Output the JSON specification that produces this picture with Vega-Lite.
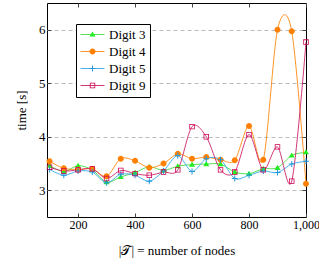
{
  "$schema": "https://vega.github.io/schema/vega-lite/v6.json",
  "width": 259,
  "height": 214,
  "autosize": {"type": "none"},
  "padding": {"left": 47, "top": 3, "right": 13, "bottom": 42},
  "background": "white",
  "config": {
    "view": {"stroke": "black", "strokeWidth": 1},
    "font": "Liberation Serif",
    "legend": {"labelFont": "Liberation Serif", "labelFontSize": 13, "labelColor": "black"},
    "axis": {
      "labelFont": "Liberation Serif",
      "labelFontSize": 13,
      "labelColor": "black",
      "titleFont": "Liberation Serif",
      "titleFontSize": 13,
      "titleFontWeight": "normal",
      "titleColor": "black",
      "tickColor": "#444444",
      "tickSize": -4,
      "domain": false,
      "labelFlush": false
    }
  },
  "data": {
    "values": [
      {"n": 100, "digit": "Digit 3", "t": 3.46}, {"n": 150, "digit": "Digit 3", "t": 3.35}, {"n": 200, "digit": "Digit 3", "t": 3.46}, {"n": 250, "digit": "Digit 3", "t": 3.38}, {"n": 300, "digit": "Digit 3", "t": 3.15}, {"n": 350, "digit": "Digit 3", "t": 3.25}, {"n": 400, "digit": "Digit 3", "t": 3.33}, {"n": 450, "digit": "Digit 3", "t": 3.44}, {"n": 500, "digit": "Digit 3", "t": 3.37}, {"n": 550, "digit": "Digit 3", "t": 3.45}, {"n": 600, "digit": "Digit 3", "t": 3.48}, {"n": 650, "digit": "Digit 3", "t": 3.49}, {"n": 700, "digit": "Digit 3", "t": 3.49}, {"n": 750, "digit": "Digit 3", "t": 3.34}, {"n": 800, "digit": "Digit 3", "t": 3.31}, {"n": 850, "digit": "Digit 3", "t": 3.40}, {"n": 900, "digit": "Digit 3", "t": 3.42}, {"n": 950, "digit": "Digit 3", "t": 3.65}, {"n": 1000, "digit": "Digit 3", "t": 3.71},
      {"n": 100, "digit": "Digit 4", "t": 3.54}, {"n": 150, "digit": "Digit 4", "t": 3.41}, {"n": 200, "digit": "Digit 4", "t": 3.39}, {"n": 250, "digit": "Digit 4", "t": 3.40}, {"n": 300, "digit": "Digit 4", "t": 3.26}, {"n": 350, "digit": "Digit 4", "t": 3.59}, {"n": 400, "digit": "Digit 4", "t": 3.55}, {"n": 450, "digit": "Digit 4", "t": 3.42}, {"n": 500, "digit": "Digit 4", "t": 3.50}, {"n": 550, "digit": "Digit 4", "t": 3.68}, {"n": 600, "digit": "Digit 4", "t": 3.59}, {"n": 650, "digit": "Digit 4", "t": 3.62}, {"n": 700, "digit": "Digit 4", "t": 3.57}, {"n": 750, "digit": "Digit 4", "t": 3.56}, {"n": 800, "digit": "Digit 4", "t": 4.20}, {"n": 850, "digit": "Digit 4", "t": 3.57}, {"n": 900, "digit": "Digit 4", "t": 6.00}, {"n": 950, "digit": "Digit 4", "t": 5.97}, {"n": 1000, "digit": "Digit 4", "t": 3.12},
      {"n": 100, "digit": "Digit 5", "t": 3.39}, {"n": 150, "digit": "Digit 5", "t": 3.28}, {"n": 200, "digit": "Digit 5", "t": 3.36}, {"n": 250, "digit": "Digit 5", "t": 3.34}, {"n": 300, "digit": "Digit 5", "t": 3.14}, {"n": 350, "digit": "Digit 5", "t": 3.30}, {"n": 400, "digit": "Digit 5", "t": 3.28}, {"n": 450, "digit": "Digit 5", "t": 3.17}, {"n": 500, "digit": "Digit 5", "t": 3.36}, {"n": 550, "digit": "Digit 5", "t": 3.65}, {"n": 600, "digit": "Digit 5", "t": 3.35}, {"n": 650, "digit": "Digit 5", "t": 3.59}, {"n": 700, "digit": "Digit 5", "t": 3.57}, {"n": 750, "digit": "Digit 5", "t": 3.22}, {"n": 800, "digit": "Digit 5", "t": 3.28}, {"n": 850, "digit": "Digit 5", "t": 3.36}, {"n": 900, "digit": "Digit 5", "t": 3.33}, {"n": 950, "digit": "Digit 5", "t": 3.49}, {"n": 1000, "digit": "Digit 5", "t": 3.54},
      {"n": 100, "digit": "Digit 9", "t": 3.43}, {"n": 150, "digit": "Digit 9", "t": 3.36}, {"n": 200, "digit": "Digit 9", "t": 3.38}, {"n": 250, "digit": "Digit 9", "t": 3.40}, {"n": 300, "digit": "Digit 9", "t": 3.22}, {"n": 350, "digit": "Digit 9", "t": 3.37}, {"n": 400, "digit": "Digit 9", "t": 3.31}, {"n": 450, "digit": "Digit 9", "t": 3.28}, {"n": 500, "digit": "Digit 9", "t": 3.34}, {"n": 550, "digit": "Digit 9", "t": 3.38}, {"n": 600, "digit": "Digit 9", "t": 4.19}, {"n": 650, "digit": "Digit 9", "t": 4.00}, {"n": 700, "digit": "Digit 9", "t": 3.38}, {"n": 750, "digit": "Digit 9", "t": 3.34}, {"n": 800, "digit": "Digit 9", "t": 4.04}, {"n": 850, "digit": "Digit 9", "t": 3.38}, {"n": 900, "digit": "Digit 9", "t": 3.81}, {"n": 950, "digit": "Digit 9", "t": 3.17}, {"n": 1000, "digit": "Digit 9", "t": 5.77}
    ]
  },
  "layer": [
    {
      "mark": {"type": "line", "interpolate": "cardinal", "tension": 0.1, "strokeWidth": 1, "opacity": 0.9},
      "encoding": {
        "x": {"field": "n", "type": "quantitative", "scale": {"domain": [91, 1000], "nice": false, "zero": false},
          "axis": {"orient": "bottom", "values": [200, 400, 600, 800, 1000], "format": ",d", "grid": false, "labelPadding": 6, "labelFontSize": 12, "title": "|𝒯| = number of nodes", "titleY": 33, "titleBaseline": "middle"}},
        "y": {"field": "t", "type": "quantitative", "scale": {"domain": [2.5, 6.5], "nice": false, "zero": false},
          "axis": {"orient": "left", "values": [3, 4, 5, 6], "format": "d", "grid": true, "gridColor": "#bbbbbb", "gridDash": [4, 3], "gridWidth": 1, "labelPadding": 6, "title": "time [s]", "titleX": -26, "titleY": 107, "titleBaseline": "middle", "titleAngle": 270}},
        "stroke": {"field": "digit", "type": "nominal",
          "scale": {"domain": ["Digit 3", "Digit 4", "Digit 5", "Digit 9"], "range": ["#44dd44", "#ff8811", "#33a8e8", "#cc2266"]},
          "legend": {"orient": "none", "legendX": 29, "legendY": 21, "title": null, "symbolType": "M-2,0H2", "symbolSize": 144, "symbolStrokeWidth": 1, "labelFont": "Liberation Serif", "labelFontSize": 13, "labelColor": "black", "padding": 4, "strokeColor": "black", "fillColor": "white", "rowPadding": 3, "symbolOffset": 6, "labelOffset": 10, "zindex": 0}}
      }
    },
    {
      "mark": {"type": "point", "filled": true, "size": 144, "opacity": 1},
      "encoding": {
        "x": {"field": "n", "type": "quantitative",
          "axis": {"orient": "top", "values": [200, 400, 600, 800, 1000], "labels": false, "title": null, "grid": false}},
        "y": {"field": "t", "type": "quantitative",
          "axis": {"orient": "right", "values": [3, 4, 5, 6], "labels": false, "title": null, "grid": false}},
        "shape": {"field": "digit", "type": "nominal",
          "scale": {"range": [
            "M0,-0.5L0.5,0.35L-0.5,0.35Z",
            "M0.5,0A0.5,0.5,0,1,1,-0.5,0A0.5,0.5,0,1,1,0.5,0Z",
            "M-0.5,-0.085H-0.085V-0.5H0.085V-0.085H0.5V0.085H0.085V0.5H-0.085V0.085H-0.5Z",
            "M-0.45,-0.45H0.45V0.45H-0.45Z M-0.32,-0.32V0.32H0.32V-0.32Z"
          ]},
          "legend": {"orient": "none", "legendX": 29, "legendY": 21, "title": null, "symbolSize": 144, "symbolStrokeWidth": 1, "symbolStrokeColor": "transparent", "labelFont": "Liberation Serif", "labelFontSize": 13, "labelOpacity": 0, "padding": 4, "rowPadding": 3, "symbolOffset": 6, "labelOffset": 10, "zindex": 1}},
        "fill": {"field": "digit", "type": "nominal",
          "scale": {"range": ["#22ee22", "#ff8000", "#2299dd", "#cc0055"]}}
      }
    }
  ],
  "resolve": {"axis": {"x": "independent", "y": "independent"}}
}
